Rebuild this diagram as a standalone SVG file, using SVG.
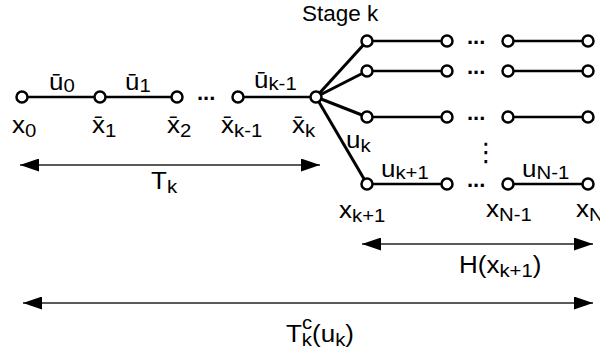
<svg xmlns="http://www.w3.org/2000/svg" width="600" height="350" viewBox="0 0 600 350">
<style>
.t{font-family:"Liberation Sans",Arial,Helvetica,sans-serif;font-size:23px;fill:#000}
.s{font-size:18px}
.st{font-family:"Liberation Sans",Arial,Helvetica,sans-serif;font-size:22.5px;fill:#000}
.e{stroke:#000;stroke-width:2.5;fill:none}
.f{stroke:#000;stroke-width:3;fill:none}
.a{stroke:#222;stroke-width:1.6;fill:none;marker-start:url(#ah);marker-end:url(#ah)}
.n{fill:#fff;stroke:#000;stroke-width:2.5}
.d{font-family:"Liberation Sans",Arial,sans-serif;font-size:22px;font-weight:bold;fill:#000}
</style>
<defs>
<marker id="ah" viewBox="0 0 19 13" refX="19" refY="6.5" markerWidth="19" markerHeight="13" markerUnits="userSpaceOnUse" orient="auto-start-reverse">
<path d="M0,0 L19,6.5 L0,13 Z" fill="#000"/>
</marker>
</defs>
<g id="connectors">
<line class="e" x1="22" y1="97" x2="100" y2="97"/>
<line class="e" x1="100" y1="97" x2="177" y2="97"/>
<line class="e" x1="238" y1="97" x2="316" y2="97"/>
<line class="f" x1="316" y1="97" x2="367" y2="41"/>
<line class="f" x1="316" y1="97" x2="367" y2="71"/>
<line class="f" x1="316" y1="97" x2="367" y2="117"/>
<line class="f" x1="316" y1="97" x2="367" y2="184"/>
<line class="e" x1="367" y1="41" x2="447" y2="41"/>
<line class="e" x1="367" y1="71" x2="447" y2="71"/>
<line class="e" x1="367" y1="117" x2="447" y2="117"/>
<line class="e" x1="367" y1="184" x2="447" y2="184"/>
<line class="e" x1="508" y1="41" x2="588" y2="41"/>
<line class="e" x1="508" y1="71" x2="588" y2="71"/>
<line class="e" x1="508" y1="117" x2="588" y2="117"/>
<line class="e" x1="508" y1="184" x2="588" y2="184"/>
<line class="a" x1="20" y1="165" x2="320" y2="165"/>
<line class="a" x1="362" y1="244" x2="593" y2="244"/>
<line class="a" x1="23" y1="303" x2="593" y2="303"/>
</g>
<g id="n-x0"><circle class="n" cx="22" cy="97" r="5.5"/><text class="t" transform="translate(12,133) scale(1.13,1)">x<tspan class="s" dy="4">0</tspan></text></g>
<g id="n-x1"><circle class="n" cx="100" cy="97" r="5.5"/><text class="t" transform="translate(92,133) scale(1.13,1)">x̄<tspan class="s" dy="4">1</tspan></text></g>
<g id="n-x2"><circle class="n" cx="177" cy="97" r="5.5"/><text class="t" transform="translate(167,133) scale(1.13,1)">x̄<tspan class="s" dy="4">2</tspan></text></g>
<g id="n-xk-1"><circle class="n" cx="238" cy="97" r="5.5"/><text class="t" transform="translate(221,133) scale(1.13,1)">x̄<tspan class="s" dy="4">k-1</tspan></text></g>
<g id="n-xk"><circle class="n" cx="316" cy="97" r="5.5"/><text class="t" transform="translate(292,133) scale(1.13,1)">x̄<tspan class="s" dy="4">k</tspan></text></g>
<g id="n-r1a"><circle class="n" cx="367" cy="41" r="5.5"/></g>
<g id="n-r2a"><circle class="n" cx="367" cy="71" r="5.5"/></g>
<g id="n-r3a"><circle class="n" cx="367" cy="117" r="5.5"/></g>
<g id="n-xk+1"><circle class="n" cx="367" cy="184" r="5.5"/><text class="t" transform="translate(339,218) scale(1.13,1)">x<tspan class="s" dy="4">k+1</tspan></text></g>
<g id="n-r1b"><circle class="n" cx="447" cy="41" r="5.5"/></g>
<g id="n-r2b"><circle class="n" cx="447" cy="71" r="5.5"/></g>
<g id="n-r3b"><circle class="n" cx="447" cy="117" r="5.5"/></g>
<g id="n-r4b"><circle class="n" cx="447" cy="184" r="5.5"/></g>
<g id="n-r1c"><circle class="n" cx="508" cy="41" r="5.5"/></g>
<g id="n-r2c"><circle class="n" cx="508" cy="71" r="5.5"/></g>
<g id="n-r3c"><circle class="n" cx="508" cy="117" r="5.5"/></g>
<g id="n-xN-1"><circle class="n" cx="508" cy="184" r="5.5"/><text class="t" transform="translate(486,217) scale(1.13,1)">x<tspan class="s" dy="4">N-1</tspan></text></g>
<g id="n-r1d"><circle class="n" cx="588" cy="41" r="5.5"/></g>
<g id="n-r2d"><circle class="n" cx="588" cy="71" r="5.5"/></g>
<g id="n-r3d"><circle class="n" cx="588" cy="117" r="5.5"/></g>
<g id="n-xN"><circle class="n" cx="588" cy="184" r="5.5"/><text class="t" transform="translate(576,217) scale(1.13,1)">x<tspan class="s" dy="4">N</tspan></text></g>
<g id="labels">
<text class="t" transform="translate(49,90) scale(1.13,1)">ū<tspan class="s" dy="2">0</tspan></text>
<text class="t" transform="translate(125,90) scale(1.13,1)">ū<tspan class="s" dy="2">1</tspan></text>
<text class="t" transform="translate(254,88) scale(1.13,1)">ū<tspan class="s" dy="2">k-1</tspan></text>
<text class="st" x="302" y="21">Stage k</text>
<text class="t" transform="translate(346,148) scale(1.13,1)">u<tspan class="s" dy="4">k</tspan></text>
<text class="t" transform="translate(381,177) scale(1.13,1)">u<tspan class="s" dy="2">k+1</tspan></text>
<text class="t" transform="translate(522,177) scale(1.13,1)">u<tspan class="s" dy="2">N-1</tspan></text>
<text class="t" transform="translate(151,189) scale(1.13,1)">T<tspan class="s" dy="4">k</tspan></text>
<text class="t" transform="translate(459,273) scale(1.13,1)">H(x<tspan class="s" dy="4">k+1</tspan><tspan dy="-4">)</tspan></text>
<text class="t" transform="translate(286,342) scale(1.13,1)">T<tspan class="s" dy="-13">c</tspan><tspan class="s" dx="-9" dy="17">k</tspan><tspan dy="-4">(u</tspan><tspan class="s" dy="4">k</tspan><tspan dy="-4">)</tspan></text>
<text class="d" x="197" y="100">...</text>
<text class="d" x="467" y="44">...</text>
<text class="d" x="467" y="74">...</text>
<text class="d" x="467" y="120">...</text>
<text class="d" x="467" y="187">...</text>
<text class="t" x="473" y="161" style="font-family:'DejaVu Sans',sans-serif;font-size:26px">⋮</text>
</g>
</svg>
